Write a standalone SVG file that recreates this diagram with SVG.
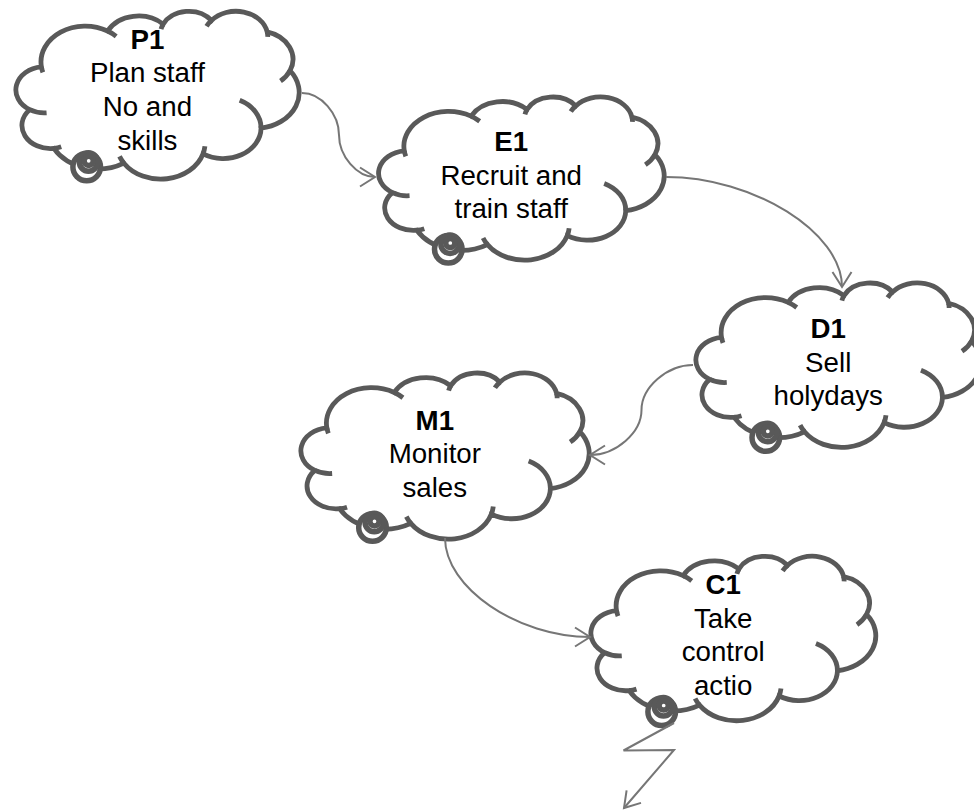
<svg xmlns="http://www.w3.org/2000/svg" xmlns:xlink="http://www.w3.org/1999/xlink" width="974" height="811" viewBox="0 0 974 811">
<style>
.cl{fill:#fff;stroke:#595959;stroke-width:4.8}
.hk{fill:none;stroke:#595959;stroke-width:4.8}
.bub{fill:#fff;stroke:#595959;stroke-width:5.5}
.t{font-family:"Liberation Sans",Arial,sans-serif;font-size:27.7px;fill:#000;text-anchor:middle}
.b{font-weight:bold}
.cn{fill:none;stroke:#767676;stroke-width:2}
</style>
<defs>
<g id="cloud">
<path class="cl" vector-effect="non-scaling-stroke" d="M3900,14370 A6753,9190 0 0 1 14000,5192 A5333,7267 0 0 1 22456,3432 A4365,5945 0 0 1 29833,2481 A4857,6595 0 0 1 38324,5426 A5333,7273 0 0 1 41798,15354 A6775,9220 0 0 1 37384,30097 A5785,7867 0 0 1 28536,36708 A6752,9215 0 0 1 16478,39090 A7720,10543 0 0 1 5801,35294 A4360,5918 0 0 1 2110,25372 A4345,5945 0 0 1 3900,14370 Z"/>
<path class="hk" vector-effect="non-scaling-stroke" d="M4693,26177 A4345,5945 0 0 1 2110,25372 M6928,34899 A4360,5918 0 0 1 5801,35294 M16478,39090 A6752,9215 0 0 1 15810,37350 M28827,34751 A6752,9215 0 0 1 28536,36708 M34129,22954 A5785,7867 0 0 1 37384,30097 M41798,15354 A5333,7273 0 0 1 40350,18030 M38324,5426 A4857,6595 0 0 1 38400,6690 M29078,3952 A4857,6595 0 0 1 29833,2481 M22141,4720 A4365,5945 0 0 1 22456,3432 M14000,5192 A6753,9190 0 0 1 15300,6540 M4127,15789 A6753,9190 0 0 1 3900,14370"/>
</g>
<g id="bubbles">
<circle class="bub" cx="0" cy="0" r="13.8"/>
<circle class="bub" cx="1.8" cy="-5" r="9.2"/>
<circle class="bub" cx="2" cy="-6.2" r="4.6"/>
</g>
<marker id="arr" markerUnits="userSpaceOnUse" markerWidth="40" markerHeight="40" viewBox="-20 -20 40 40" refX="0" refY="0" orient="auto" overflow="visible">
<path d="M-15,-9.5 L0,0 L-15,9.5" fill="none" stroke="#767676" stroke-width="2"/>
</marker>
</defs>

<g id="P1">
<use xlink:href="#cloud" href="#cloud" transform="translate(15.8,10.8) scale(0.0065602,0.0038981)"/>
<use xlink:href="#bubbles" href="#bubbles" transform="translate(86.7,167)"/>
<text class="t b" x="147.4" y="48.8">P1</text>
<text class="t" x="147.4" y="82.4">Plan staff</text>
<text class="t" x="147.4" y="116">No and</text>
<text class="t" x="147.4" y="149.5">skills</text>
</g>

<g id="E1">
<use xlink:href="#cloud" href="#cloud" transform="translate(378.5,96.5) scale(0.0066134,0.0037894)"/>
<use xlink:href="#bubbles" href="#bubbles" transform="translate(448.3,249.2)"/>
<text class="t b" x="511.2" y="151">E1</text>
<text class="t" x="511.2" y="184.6">Recruit and</text>
<text class="t" x="511.2" y="218.2">train staff</text>
</g>

<g id="D1">
<use xlink:href="#cloud" href="#cloud" transform="translate(695.8,282.5) scale(0.0065972,0.0038194)"/>
<use xlink:href="#bubbles" href="#bubbles" transform="translate(765.8,437.5)"/>
<text class="t b" x="828.2" y="338.2">D1</text>
<text class="t" x="828.2" y="371.8">Sell</text>
<text class="t" x="828.2" y="405.3">holydays</text>
</g>

<g id="M1">
<use xlink:href="#cloud" href="#cloud" transform="translate(300.8,372.5) scale(0.0066759,0.0038588)"/>
<use xlink:href="#bubbles" href="#bubbles" transform="translate(372.5,527.5)"/>
<text class="t b" x="434.8" y="429.5">M1</text>
<text class="t" x="434.8" y="463.1">Monitor</text>
<text class="t" x="434.8" y="496.6">sales</text>
</g>

<g id="C1">
<use xlink:href="#cloud" href="#cloud" transform="translate(590.8,555.8) scale(0.0065972,0.0038194)"/>
<use xlink:href="#bubbles" href="#bubbles" transform="translate(661.7,711.7)"/>
<text class="t b" x="723.2" y="594">C1</text>
<text class="t" x="723.2" y="627.6">Take</text>
<text class="t" x="723.2" y="661.1">control</text>
<text class="t" x="723.2" y="694.7">actio</text>
</g>

<g id="connectors">
<path class="cn" marker-end="url(#arr)" d="M302,93 C321,93 339,114 339,135 C339,156 357,177 375,177"/>
<path class="cn" marker-end="url(#arr)" d="M666,177 C753.5,177 842,232 842,287"/>
<path class="cn" marker-end="url(#arr)" d="M693,365 C667,365 641.5,387.5 641.5,410 C641.5,432.5 616,455 590,455"/>
<path class="cn" marker-end="url(#arr)" d="M445,538 C445,587.5 517.5,637 590,637"/>
<path class="cn" marker-end="url(#arr)" d="M674,723 L623.5,750.5 L674,750 L624,808"/>
</g>
</svg>
